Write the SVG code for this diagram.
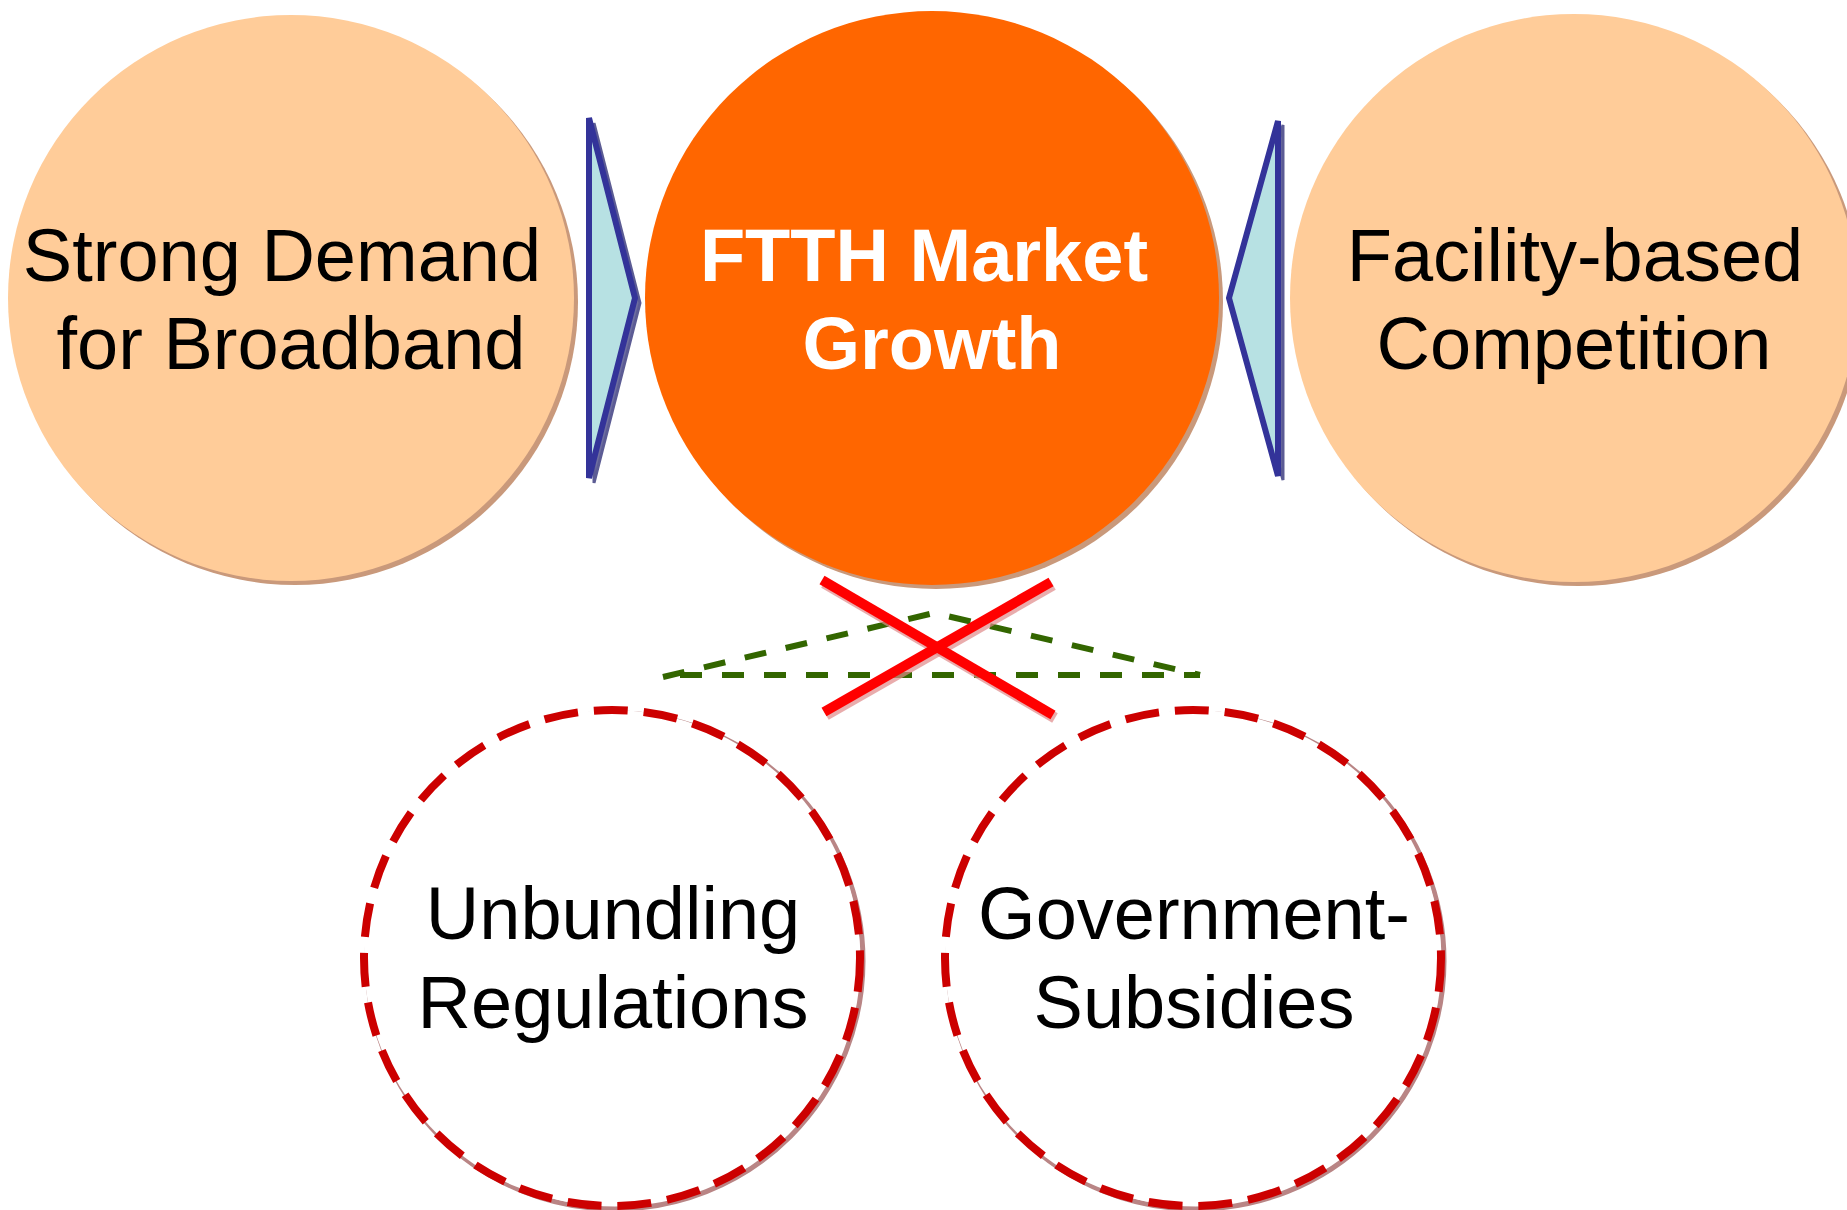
<svg xmlns="http://www.w3.org/2000/svg" width="1847" height="1210" viewBox="0 0 1847 1210">
<style>
.lbl{font-family:"Liberation Sans",Arial,sans-serif;font-size:74px;fill:#000;text-anchor:middle}
.bold{font-weight:bold;fill:#fff}
.peach{fill:#FFCC99}
.shadowA{fill:#C9997B}
.arrow{fill:#B7E1E3;stroke:#333399;stroke-width:6;stroke-linejoin:miter}
.arrowSh{fill:#6E6EA0;stroke:#5C5C94;stroke-width:3}
.dashc{fill:#fff;stroke:#CC0000;stroke-width:8;stroke-dasharray:34 16}
.dashSh{fill:none;stroke:#B98585;stroke-width:5}
.green{fill:none;stroke:#336600;stroke-width:6;stroke-dasharray:22 20}
.xline{stroke:#FF0000;stroke-width:10;stroke-linecap:butt}
.xsh{stroke:#E08A8A;stroke-width:11;opacity:0.7}
</style>
<rect width="1847" height="1210" fill="#fff"/>

<g id="node-demand">
  <circle class="shadowA" cx="295" cy="302" r="283"/>
  <circle class="peach" cx="291" cy="298" r="283"/>
  <text class="lbl" x="282" y="281">Strong Demand</text>
  <text class="lbl" x="291" y="369">for Broadband</text>
</g>

<g id="node-ftth">
  <circle class="shadowA" cx="936" cy="302" r="287"/>
  <circle fill="#FF6600" cx="932" cy="298" r="287"/>
  <text class="lbl bold" x="924" y="281">FTTH Market</text>
  <text class="lbl bold" x="932" y="369">Growth</text>
</g>

<g id="node-competition">
  <circle class="shadowA" cx="1578" cy="302" r="284"/>
  <circle class="peach" cx="1574" cy="298" r="284"/>
  <text class="lbl" x="1575" y="281">Facility-based</text>
  <text class="lbl" x="1574" y="369">Competition</text>
</g>

<g id="node-unbundling">
  <circle class="dashSh" cx="615" cy="961" r="248"/>
  <circle class="dashc" cx="612" cy="958" r="248"/>
  <text class="lbl" x="613" y="939">Unbundling</text>
  <text class="lbl" x="613" y="1028">Regulations</text>
</g>

<g id="node-subsidies">
  <circle class="dashSh" cx="1196" cy="961" r="248"/>
  <circle class="dashc" cx="1193" cy="958" r="248"/>
  <text class="lbl" x="1194" y="939">Government-</text>
  <text class="lbl" x="1194" y="1028">Subsidies</text>
</g>

<g id="connectors">
  <polygon class="arrowSh" points="594,123 640,303 594,483"/>
  <polygon class="arrow" points="589,118 635,298 589,478"/>
  <polygon class="arrowSh" points="1283,125 1234,302 1283,480"/>
  <polygon class="arrow" points="1278,121 1229,298 1278,476"/>
  <polyline class="green" points="663,677 934,613 1200,675"/>
  <line class="green" x1="680" y1="675" x2="1200" y2="675"/>
  <line class="xsh" x1="824" y1="583" x2="1055" y2="718"/>
  <line class="xsh" x1="826" y1="715" x2="1053" y2="585"/>
  <line class="xline" x1="822" y1="580" x2="1053" y2="715"/>
  <line class="xline" x1="824" y1="712" x2="1051" y2="582"/>
</g>
</svg>
